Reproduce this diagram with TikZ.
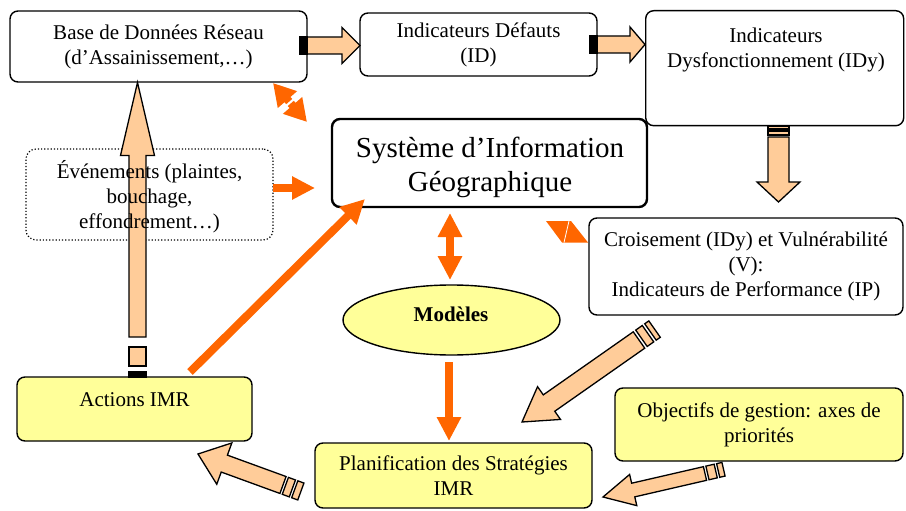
\documentclass[tikz,border=0pt]{standalone}
\usepackage{fontspec}
\setmainfont{Liberation Serif}
\usetikzlibrary{calc,arrows.meta,shapes.geometric}
\definecolor{peachc}{HTML}{FFCC99}
\definecolor{yellowc}{HTML}{FFFF99}
\definecolor{orangec}{HTML}{FF6600}
\newcommand\mainfs{\fontsize{21}{25}\selectfont}
\newcommand\sigfs{\fontsize{29}{34}\selectfont}
% block arrow: #1 tail coord, #2 tip coord, #3 shaft half width, #4 head half width, #5 head length
\newcommand\peacharrow[5]{%
\draw[peachstyle] let \p1=(#1), \p2=(#2), \n1={atan2(\y2-\y1,\x2-\x1)}, \n2={veclen(\x2-\x1,\y2-\y1)-#5} in
 ($(\p1)+(\n1+90:#3)$) -- ($(\p1)+(\n1:\n2)+(\n1+90:#3)$) -- ($(\p1)+(\n1:\n2)+(\n1+90:#4)$) -- (\p2)
 -- ($(\p1)+(\n1:\n2)+(\n1-90:#4)$) -- ($(\p1)+(\n1:\n2)+(\n1-90:#3)$) -- ($(\p1)+(\n1-90:#3)$) -- cycle;}
% stripe: #1 from, #2 toward, #3 d1, #4 d2, #5 half width, #6 fill
\newcommand\tailstripe[6]{%
\draw[peachstyle, fill=#6] let \p1=(#1), \p2=(#2), \n1={atan2(\y2-\y1,\x2-\x1)} in
 ($(\p1)+(\n1:#3)+(\n1+90:#5)$) -- ($(\p1)+(\n1:#4)+(\n1+90:#5)$) -- ($(\p1)+(\n1:#4)+(\n1-90:#5)$) -- ($(\p1)+(\n1:#3)+(\n1-90:#5)$) -- cycle;}
\tikzset{
 box/.style={draw, rounded corners=8pt, line width=1.4pt, inner sep=0pt, align=center, font=\mainfs},
 ybox/.style={box, fill=yellowc},
 evbox/.style={draw, dotted, rounded corners=10pt, line width=1.2pt, inner sep=0pt, align=center, font=\mainfs},
 txt/.style={align=center, inner sep=0pt, font=\mainfs},
 peachstyle/.style={draw=black, fill=peachc, line width=1.3pt, line join=miter},
 oarrow/.style={draw=orangec, line width=8pt, -{Triangle[length=24pt,width=23pt]}},
 oarrowd/.style={draw=orangec, line width=8pt, {Triangle[length=24pt,width=23pt]}-{Triangle[length=24pt,width=23pt]}},
}
\begin{document}
\begin{tikzpicture}[x=1pt,y=-1pt]
\useasboundingbox (0,0) rectangle (906,511);
% boxes
\node[box, minimum width=297pt, minimum height=71pt] (bdd) at (158.5,46.5) {Base de Données Réseau\\(d’Assainissement,…)};
\node[box, minimum width=237pt, minimum height=63pt] (id) at (478.5,44.5) {Indicateurs Défauts\\(ID)};
\node[box, minimum width=258pt, minimum height=115pt, anchor=north west] (idy) at (645,10) {};
\node[txt] (idyt) at (776,49.5) {Indicateurs\\Dysfonctionnement (IDy)};
\node[box, line width=2.4pt, minimum width=315pt, minimum height=88pt] (sig) at (489.5,163) {};
\node[txt, font=\sigfs] (sigt) at (490,167.5) {Système d’Information\\Géographique};
\node[evbox, minimum width=247pt, minimum height=91pt] (ev) at (149.5,194.5) {};
\node[box, minimum width=314pt, minimum height=97pt] (cr) at (746,266.5) {Croisement (IDy) et Vulnérabilité\\(V):\\Indicateurs de Performance (IP)};
\node[ellipse, draw, fill=yellowc, line width=1.4pt, minimum width=217pt, minimum height=70pt, inner sep=0pt] (mod) at (451.5,320) {};
\node[txt, font=\mainfs\bfseries] (modt) at (451,314) {Modèles};
\node[ybox, minimum width=235pt, minimum height=64pt] (act) at (134.5,409) {};
\node[txt] (actt) at (134.5,400) {Actions IMR};
\node[ybox, minimum width=277pt, minimum height=65pt] (plan) at (453.5,475.5) {Planification des Stratégies\\IMR};
\node[ybox, minimum width=288pt, minimum height=73pt] (obj) at (759,424.5) {Objectifs de gestion: axes de\\priorités};
% orange arrows
\coordinate (o1a) at (273,83);
\coordinate (o1b) at (307,122);
\coordinate (o1m) at (290,102.5);
\draw[draw=orangec, line width=8pt, -{Triangle[length=22pt,width=24pt]}] ($(o1m)!1.2pt!(o1a)$) -- (o1a);
\draw[draw=orangec, line width=8pt, -{Triangle[length=22pt,width=24pt]}] ($(o1m)!1.2pt!(o1b)$) -- (o1b);
\coordinate (o2s) at (273,188);
\coordinate (o2e) at (315,188);
\draw[oarrow, -{Triangle[length=23pt,width=22pt]}] (o2s) -- (o2e);
\coordinate (o3s) at (190,372);
\coordinate (o3e) at (365,199);
\draw[oarrow] (o3s) -- (o3e);
\coordinate (o4s) at (450,213);
\coordinate (o4e) at (450,280);
\draw[oarrowd] (o4s) -- (o4e);
\coordinate (o5s) at (449,362);
\coordinate (o5e) at (449,441);
\draw[oarrow] (o5s) -- (o5e);
\fill[orangec] (546,221) -- (571,221) -- (588,242.5) -- (562,242.5) -- cycle;
\draw[white, line width=0.8pt] (569,221) -- (564,242.5);
% peach block arrows
\coordinate (a1t) at (307,45.5);
\coordinate (a1h) at (360,45.5);
\peacharrow{a1t}{a1h}{8.5pt}{18pt}{18pt}
\tailstripe{a1t}{a1h}{-7pt}{0pt}{8.5pt}{black}
\coordinate (a2t) at (597,44.5);
\coordinate (a2h) at (645,44.5);
\peacharrow{a2t}{a2h}{8.5pt}{17.5pt}{15pt}
\tailstripe{a2t}{a2h}{-7pt}{0pt}{8.5pt}{black}
\coordinate (a3t) at (778.5,137);
\coordinate (a3h) at (778.5,202);
\peacharrow{a3t}{a3h}{10.5pt}{21.5pt}{20pt}
\tailstripe{a3t}{a3h}{-6pt}{-2pt}{10.5pt}{peachc}
\tailstripe{a3t}{a3h}{-11pt}{-8pt}{10.5pt}{peachc}
\coordinate (a4t) at (639,340);
\coordinate (a4h) at (522,422);
\peacharrow{a4t}{a4h}{10pt}{20pt}{33pt}
\tailstripe{a4t}{a4h}{-3pt}{-11pt}{10pt}{peachc}
\tailstripe{a4t}{a4h}{-14pt}{-19pt}{10pt}{peachc}
\coordinate (a5t) at (705,473.5);
\coordinate (a5h) at (603,497);
\peacharrow{a5t}{a5h}{7pt}{16pt}{31pt}
\tailstripe{a5t}{a5h}{-2.5pt}{-11pt}{7pt}{peachc}
\tailstripe{a5t}{a5h}{-13.5pt}{-19pt}{7pt}{peachc}
\coordinate (a6t) at (283,485);
\coordinate (a6h) at (198,454);
\peacharrow{a6t}{a6h}{9pt}{22pt}{28pt}
\tailstripe{a6t}{a6h}{-2.5pt}{-10pt}{9pt}{peachc}
\tailstripe{a6t}{a6h}{-12.5pt}{-19pt}{9pt}{peachc}
\coordinate (a7t) at (137.5,337);
\coordinate (a7h) at (137.5,82.5);
\peacharrow{a7t}{a7h}{8.5pt}{17pt}{73pt}
\tailstripe{a7t}{a7h}{-10pt}{-29pt}{8.5pt}{peachc}
\tailstripe{a7t}{a7h}{-35pt}{-40pt}{8.5pt}{black}
% event text drawn over the arrow, as in the reference
\node[txt] (evt) at (149.5,197) {Événements (plaintes,\\bouchage,\\effondrement…)};
\end{tikzpicture}
\end{document}
